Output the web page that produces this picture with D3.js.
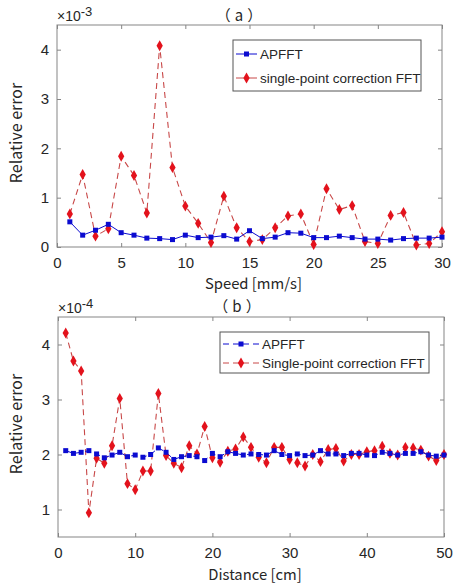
<!DOCTYPE html>
<html><head><meta charset="utf-8">
<script src="https://cdn.jsdelivr.net/npm/d3@7"></script>
<style>body{margin:0;background:#fff}svg{display:block}</style>
</head><body>
<script>
// ---- Data ----
const speed = d3.range(1, 31);
const apfftA = [0.51,0.24,0.34,0.46,0.29,0.24,0.18,0.17,0.15,0.24,0.19,0.20,0.23,0.16,0.33,0.17,0.20,0.29,0.28,0.19,0.19,0.22,0.19,0.16,0.16,0.14,0.17,0.18,0.18,0.20];
const spcA = [0.67,1.47,0.22,0.37,1.84,1.45,0.69,4.08,1.61,0.83,0.48,0.09,1.03,0.39,0.11,0.15,0.39,0.63,0.67,0.05,1.18,0.76,0.84,0.11,0.07,0.64,0.70,0.04,0.07,0.31];
const distance = d3.range(1, 51);
const apfftB = [2.07,2.02,2.04,2.07,2.01,1.94,1.99,2.04,1.96,1.99,1.95,2.00,2.12,2.04,1.91,1.96,1.98,1.96,1.89,2.02,1.96,2.05,2.02,1.99,2.01,2.00,1.99,2.07,2.00,1.98,2.01,1.98,1.99,2.07,2.01,2.01,1.98,2.02,2.02,1.99,1.98,2.04,2.02,1.99,2.02,2.02,2.05,1.99,1.97,1.99];
const spcB = [4.21,3.70,3.52,0.94,1.93,1.84,2.16,3.02,1.47,1.36,1.70,1.70,3.11,1.98,1.84,1.76,2.16,2.01,2.51,1.94,1.86,2.06,2.10,2.32,2.13,1.95,1.85,2.13,2.13,1.91,1.85,1.79,2.00,1.87,2.09,2.11,1.88,2.00,2.00,2.05,2.07,2.15,2.02,1.99,2.13,2.12,2.08,1.97,1.89,2.00];
const ticksXA = [0,5,10,15,20,25,30];
const ticksYA = [0,1,2,3,4];
const ticksXB = [0,10,20,30,40,50];
const ticksYB = [1,2,3,4];
const legendA = ["APFFT","single-point correction FFT"];
const legendB = ["APFFT","Single-point correction FFT"];

const W = 453, H = 586;
const svg = d3.select("body").append("svg").attr("width", W).attr("height", H);
const AX = "#858585", TXT = "#262626", BLUE = "#0b0bd0", RED = "#e3121c", REDL = "#c84848";
const tickFont = "'Liberation Sans', Arial, sans-serif";
const cjkFont = "'Noto Sans CJK SC', sans-serif";

function panel(o) {
  const x = d3.scaleLinear().domain(o.xd).range([o.l, o.r]);
  const y = d3.scaleLinear().domain(o.yd).range([o.b, o.t]);
  const g = svg.append("g");
  g.append("rect").attr("x", o.l).attr("y", o.t).attr("width", o.r - o.l).attr("height", o.b - o.t)
    .attr("fill", "none").attr("stroke", AX).attr("stroke-width", 1);
  const mk = (axis, tr) => {
    const a = g.append("g").attr("transform", tr).call(axis);
    a.select(".domain").remove();
    a.selectAll(".tick line").attr("stroke", AX);
    a.selectAll("text").attr("fill", TXT).attr("font-family", tickFont).attr("font-size", 15);
    return a;
  };
  mk(d3.axisBottom(x).tickValues(o.tx).tickSize(-4).tickPadding(10).tickFormat(d3.format("d")), `translate(0,${o.b})`);
  mk(d3.axisTop(x).tickValues(o.tx).tickSize(-4).tickFormat(""), `translate(0,${o.t})`);
  mk(d3.axisLeft(y).tickValues(o.ty).tickSize(-4).tickPadding(8).tickFormat(d3.format("d")), `translate(${o.l},0)`);
  mk(d3.axisRight(y).tickValues(o.ty).tickSize(-4).tickFormat(""), `translate(${o.r},0)`);

  const ex = g.append("text").attr("x", o.l).attr("y", o.t - 4).attr("fill", TXT)
    .attr("font-family", tickFont).attr("font-size", 14);
  ex.append("tspan").text("×10");
  ex.append("tspan").attr("dy", -5).attr("font-size", 13).text(o.exp);

  g.append("text").attr("x", o.titleX).attr("y", o.titleY).attr("text-anchor", "middle")
    .attr("fill", TXT).attr("font-family", cjkFont).attr("font-size", 15)
    .attr("letter-spacing", 4).text(o.title);

  g.append("text").attr("x", (o.l + o.r) / 2 + 4).attr("y", o.xlabY).attr("text-anchor", "middle")
    .attr("fill", TXT).attr("font-family", cjkFont).attr("font-size", 14.8).text(o.xlab);
  g.append("text").attr("transform", `translate(22,${(o.t + o.b) / 2 - 3}) rotate(-90)`).attr("text-anchor", "middle")
    .attr("fill", TXT).attr("font-family", cjkFont).attr("font-size", 16).text("Relative error");

  const line = d3.line().x((d, i) => x(o.xs[i])).y(d => y(d));
  g.append("path").datum(o.red).attr("d", line).attr("fill", "none").attr("stroke", REDL)
    .attr("stroke-width", 1.1).attr("stroke-dasharray", "6,4");
  g.append("path").datum(o.blue).attr("d", line).attr("fill", "none").attr("stroke", BLUE)
    .attr("stroke-width", 1).attr("stroke-dasharray", o.blueDash);
  const diamond = d3.symbol().type(d3.symbolDiamond).size(34);
  g.selectAll(".rm").data(o.red).join("path")
    .attr("transform", (d, i) => `translate(${x(o.xs[i])},${y(d)})`).attr("d", diamond).attr("fill", RED);
  g.selectAll(".bm").data(o.blue).join("rect")
    .attr("x", (d, i) => x(o.xs[i]) - 2.5).attr("y", d => y(d) - 2.5).attr("width", 5).attr("height", 5).attr("fill", BLUE);

  const L = o.leg;
  g.append("rect").attr("x", L.x).attr("y", L.y).attr("width", L.w).attr("height", L.h)
    .attr("fill", "#fff").attr("stroke", "#555").attr("stroke-width", 1);
  const rows = [{lc: BLUE, sq: true}, {lc: REDL, sq: false}];
  rows.forEach((r, i) => {
    const cy = L.y + L.r0 + i * L.dy;
    g.append("line").attr("x1", L.x + 3).attr("x2", L.x + L.sw).attr("y1", cy).attr("y2", cy)
      .attr("stroke", r.lc).attr("stroke-width", 1).attr("stroke-dasharray", L.sdash);
    const mx = L.x + 3 + (L.sw - 3) / 2;
    if (r.sq) g.append("rect").attr("x", mx - 2.5).attr("y", cy - 2.5).attr("width", 5).attr("height", 5).attr("fill", BLUE);
    else g.append("path").attr("transform", `translate(${mx},${cy})`).attr("d", diamond).attr("fill", RED);
    g.append("text").attr("x", L.x + L.sw + 3).attr("y", cy + 5).attr("fill", TXT)
      .attr("font-family", tickFont).attr("font-size", 13.5).text(o.legText[i]);
  });
}

panel({xd: [0, 30], yd: [0, 4.5], l: 57, r: 442, t: 25, b: 247, tx: ticksXA, ty: ticksYA,
  xs: speed, blue: apfftA, red: spcA, blueDash: null, exp: "-3", title: "（a）", titleX: 241, titleY: 21,
  xlab: "Speed [mm/s]", xlabY: 289, legText: legendA,
  leg: {x: 233, y: 40, w: 188, h: 51, r0: 14, dy: 24, sw: 24, sdash: null}});
panel({xd: [0, 50], yd: [0.5, 4.5], l: 58, r: 444, t: 317, b: 537, tx: ticksXB, ty: ticksYB,
  xs: distance, blue: apfftB, red: spcB, blueDash: "6,4", exp: "-4", title: "（b）", titleX: 239, titleY: 312,
  xlab: "Distance [cm]", xlabY: 580, legText: legendB,
  leg: {x: 220, y: 332, w: 209, h: 41, r0: 12, dy: 19, sw: 39, sdash: "6,4"}});
</script>
</body></html>
